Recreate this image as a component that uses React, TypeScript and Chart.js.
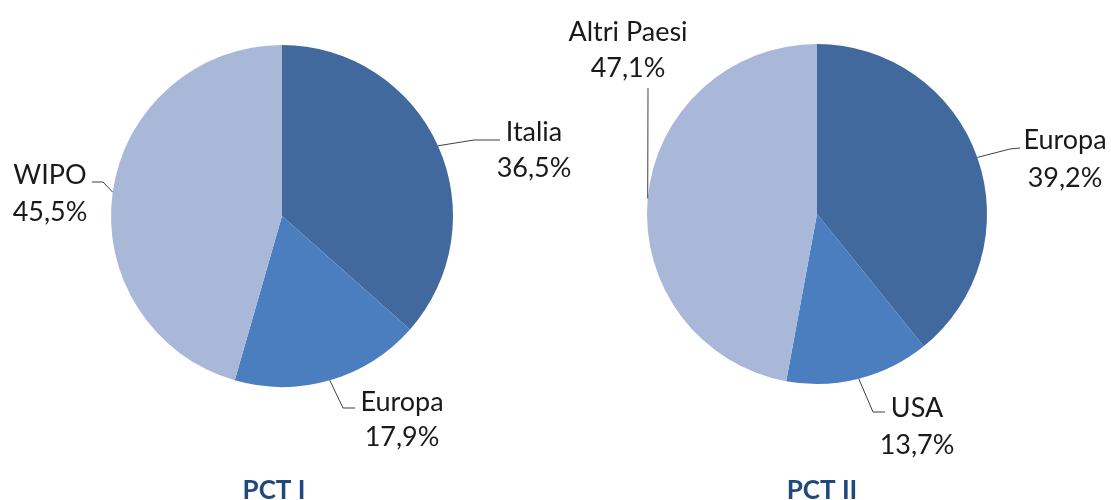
import React, { useEffect, useRef } from "react";
import { Chart, registerables } from "chart.js";

Chart.register(...registerables);

const pct1Labels = ["Italia", "Europa", "WIPO"];
const pct1Values = [36.5, 17.9, 45.5];
const pct2Labels = ["Europa", "USA", "Altri Paesi"];
const pct2Values = [39.2, 13.7, 47.1];
const sliceColors = ["#41699D", "#4A7EBF", "#A9B8D8"];
const titles = ["PCT I", "PCT II"];

// label placement relative to pie centre (elbow, end of leader, text centre)
const pct1Place = [
  { elbow: [192, -76], end: [218, -76], tx: 252, ny: -84, py: -48 },
  { elbow: [61, 192], end: [73, 192], tx: 120, ny: 186, py: 221 },
  { elbow: [-179, -34], end: [-190, -34], tx: -232, ny: -41, py: -4 },
];
const pct2Place = [
  { elbow: [193, -65], end: [203, -66], tx: 248, ny: -74, py: -36 },
  { elbow: [56, 198], end: [68, 198], tx: 100, ny: 194, py: 231 },
  { elbow: [-169, -126], end: [-169, -126], tx: -189, ny: -182, py: -146 },
];

const fmt = (v: number) => v.toFixed(1).replace(".", ",") + "%";

function makeLabelPlugin(place: any[], title: string, titleDx: number) {
  return {
    id: "pieLabels",
    afterDraw(chart: any) {
      const ctx = chart.ctx;
      const meta = chart.getDatasetMeta(0);
      const labels = chart.data.labels;
      const values = chart.data.datasets[0].data;
      ctx.save();
      meta.data.forEach((el: any, i: number) => {
        const cx = el.x;
        const cy = el.y;
        const a = (el.startAngle + el.endAngle) / 2;
        const sx = cx + el.outerRadius * Math.cos(a);
        const sy = cy + el.outerRadius * Math.sin(a);
        const p = place[i];
        ctx.beginPath();
        ctx.strokeStyle = "#404040";
        ctx.lineWidth = 1;
        ctx.moveTo(sx, sy);
        ctx.lineTo(cx + p.elbow[0], cy + p.elbow[1]);
        ctx.lineTo(cx + p.end[0], cy + p.end[1]);
        ctx.stroke();
        ctx.fillStyle = "#1a1a1a";
        ctx.font = "27px Lato";
        ctx.textAlign = "center";
        ctx.textBaseline = "middle";
        ctx.fillText(labels[i], cx + p.tx, cy + p.ny);
        ctx.fillText(fmt(values[i]), cx + p.tx, cy + p.py);
      });
      const el0 = meta.data[0];
      ctx.fillStyle = "#1F497D";
      ctx.font = "bold 26px Lato";
      ctx.textAlign = "center";
      ctx.textBaseline = "alphabetic";
      ctx.fillText(title, el0.x + titleDx, chart.height - 1);
      ctx.restore();
    },
  };
}

function makeConfig(labels: string[], values: number[], padding: any, plugin: any): any {
  return {
    type: "pie",
    data: {
      labels,
      datasets: [
        {
          data: values,
          backgroundColor: sliceColors,
          borderWidth: 0,
        },
      ],
    },
    options: {
      animation: false,
      responsive: false,
      maintainAspectRatio: false,
      layout: { padding },
      plugins: {
        legend: { display: false },
        tooltip: { enabled: false },
        title: { display: false },
      },
    },
    plugins: [plugin],
  };
}

export default function App() {
  const leftRef = useRef<HTMLCanvasElement>(null);
  const rightRef = useRef<HTMLCanvasElement>(null);

  useEffect(() => {
    const c1 = new Chart(
      leftRef.current!,
      makeConfig(
        pct1Labels,
        pct1Values,
        { left: 111, right: 658, top: 45, bottom: 113 },
        makeLabelPlugin(pct1Place, titles[0], -8)
      )
    );
    const c2 = new Chart(
      rightRef.current!,
      makeConfig(
        pct2Labels,
        pct2Values,
        { left: 647, right: 124, top: 44, bottom: 116 },
        makeLabelPlugin(pct2Place, titles[1], 5)
      )
    );
    return () => {
      c1.destroy();
      c2.destroy();
    };
  }, []);

  const cs: React.CSSProperties = { position: "absolute", left: 0, top: 0, width: 1111, height: 500 };

  return (
    <div
      style={{
        position: "fixed",
        left: 0,
        top: 0,
        width: 1111,
        height: 500,
        background: "#ffffff",
      }}
    >
      <canvas ref={leftRef} width={1111} height={500} style={cs} />
      <canvas ref={rightRef} width={1111} height={500} style={cs} />
    </div>
  );
}
